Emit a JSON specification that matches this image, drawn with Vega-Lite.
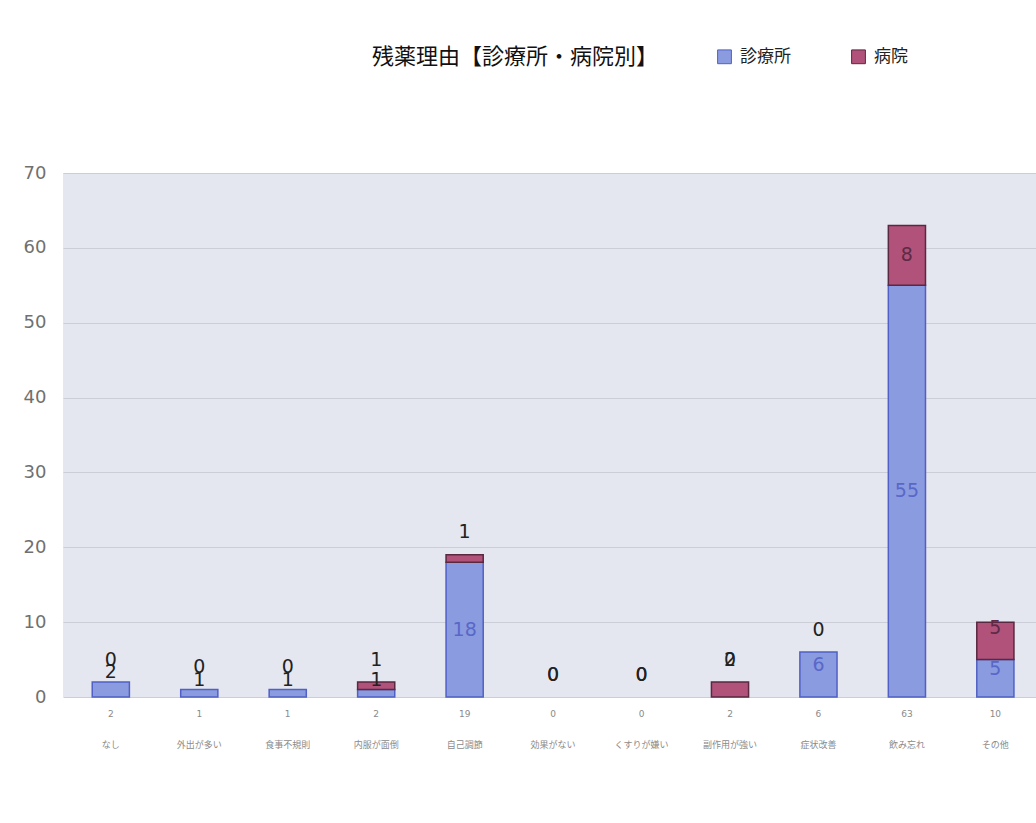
{
  "$schema": "https://vega.github.io/schema/vega-lite/v6.json",
  "width": 973,
  "height": 524,
  "autosize": "none",
  "padding": {"left": 63, "top": 173, "right": 0, "bottom": 126},
  "background": "#ffffff",
  "config": {
    "view": {"fill": "#e5e7f0", "stroke": null},
    "font": "Noto Sans CJK JP"
  },
  "data": {
    "values": [
      {"reason": "なし", "group": "診療所", "count": 2},
      {"reason": "なし", "group": "病院", "count": 0},
      {"reason": "外出が多い", "group": "診療所", "count": 1},
      {"reason": "外出が多い", "group": "病院", "count": 0},
      {"reason": "食事不規則", "group": "診療所", "count": 1},
      {"reason": "食事不規則", "group": "病院", "count": 0},
      {"reason": "内服が面倒", "group": "診療所", "count": 1},
      {"reason": "内服が面倒", "group": "病院", "count": 1},
      {"reason": "自己調節", "group": "診療所", "count": 18},
      {"reason": "自己調節", "group": "病院", "count": 1},
      {"reason": "効果がない", "group": "診療所", "count": 0},
      {"reason": "効果がない", "group": "病院", "count": 0},
      {"reason": "くすりが嫌い", "group": "診療所", "count": 0},
      {"reason": "くすりが嫌い", "group": "病院", "count": 0},
      {"reason": "副作用が強い", "group": "診療所", "count": 0},
      {"reason": "副作用が強い", "group": "病院", "count": 2},
      {"reason": "症状改善", "group": "診療所", "count": 6},
      {"reason": "症状改善", "group": "病院", "count": 0},
      {"reason": "飲み忘れ", "group": "診療所", "count": 55},
      {"reason": "飲み忘れ", "group": "病院", "count": 8},
      {"reason": "その他", "group": "診療所", "count": 5},
      {"reason": "その他", "group": "病院", "count": 5}
    ]
  },
  "transform": [
    {"stack": "count", "groupby": ["reason"], "sort": [{"field": "group", "order": "descending"}], "as": ["y0", "y1"]},
    {"joinaggregate": [{"op": "sum", "field": "count", "as": "total"}], "groupby": ["reason"]},
    {"calculate": "datum.group === '診療所' ? (datum.count >= 3 ? (datum.y0 + datum.y1) / 2 + (datum.count < 10 ? 1.3 : 0) : (datum.count == 0 ? datum.total + 3 : datum.y1 + 1.3)) : (datum.count >= 3 ? (datum.y0 + datum.y1) / 2 + (datum.count < 6 ? 1.7 : 0) : datum.total + 3)", "as": "labelY"}
  ],
  "encoding": {
    "x": {
      "field": "reason",
      "type": "nominal",
      "sort": ["なし", "外出が多い", "食事不規則", "内服が面倒", "自己調節", "効果がない", "くすりが嫌い", "副作用が強い", "症状改善", "飲み忘れ", "その他"],
      "scale": {"paddingInner": 0.58, "paddingOuter": 0.29, "align": 0.57},
      "axis": {
        "title": null,
        "domain": false,
        "ticks": false,
        "labelAngle": 0,
        "labelFontSize": 9,
        "labelColor": "#8a8a8a",
        "labelPadding": 43,
        "labelFont": "Noto Sans CJK JP"
      }
    }
  },
  "layer": [
    {
      "transform": [{"filter": "datum.count > 0"}],
      "mark": {"type": "bar", "strokeWidth": 1.5},
      "encoding": {
        "y": {
          "field": "y0",
          "type": "quantitative",
          "scale": {"domain": [0, 70], "nice": false},
          "axis": {
            "title": null,
            "values": [0, 10, 20, 30, 40, 50, 60, 70],
            "domain": false,
            "ticks": false,
            "grid": true,
            "gridColor": "#cbcdd8",
            "gridWidth": 1,
            "labelFontSize": 18,
            "labelColor": "#707070",
            "labelPadding": 17,
            "labelFont": "DejaVu Sans"
          }
        },
        "y2": {"field": "y1"},
        "color": {
          "field": "group",
          "type": "nominal",
          "scale": {"domain": ["診療所", "病院"], "range": ["#8b9be0", "#b0527a"]},
          "legend": {
            "title": "残薬理由【診療所・病院別】",
            "titleOrient": "left",
            "titleFontSize": 22,
            "titleFontWeight": "normal",
            "titleColor": "#111111",
            "titleFont": "Noto Sans CJK JP",
            "titleLimit": 500,
            "titlePadding": 57,
            "titleBaseline": "middle",
            "orient": "none",
            "direction": "horizontal",
            "legendX": 309,
            "legendY": -125,
            "symbolType": "square",
            "symbolSize": 190,
            "symbolStrokeWidth": 1,
            "symbolStrokeColor": "#6a6a8a",
            "labelFontSize": 17,
            "labelColor": "#222222",
            "labelFont": "Noto Sans CJK JP",
            "labelOffset": 7,
            "columnPadding": 58
          }
        },
        "stroke": {
          "field": "group",
          "type": "nominal",
          "scale": {"domain": ["診療所", "病院"], "range": ["#5060c4", "#5a2840"]},
          "legend": null
        }
      }
    },
    {
      "mark": {"type": "text", "fontSize": 19, "font": "DejaVu Sans", "baseline": "middle", "align": "center"},
      "encoding": {
        "y": {"field": "labelY", "type": "quantitative"},
        "text": {"field": "count", "type": "quantitative"},
        "color": {
          "condition": [
            {"test": "datum.count >= 3 && datum.group === '診療所'", "value": "#5868c8"},
            {"test": "datum.count >= 3 && datum.group === '病院'", "value": "#5e2a44"}
          ],
          "value": "#222222"
        }
      }
    },
    {
      "transform": [{"filter": "datum.group === '診療所'"}],
      "mark": {"type": "text", "fontSize": 9, "font": "DejaVu Sans", "dy": 17, "color": "#8a8a8a", "baseline": "middle"},
      "encoding": {
        "y": {"datum": 0, "type": "quantitative"},
        "text": {"field": "total", "type": "quantitative"}
      }
    }
  ]
}
